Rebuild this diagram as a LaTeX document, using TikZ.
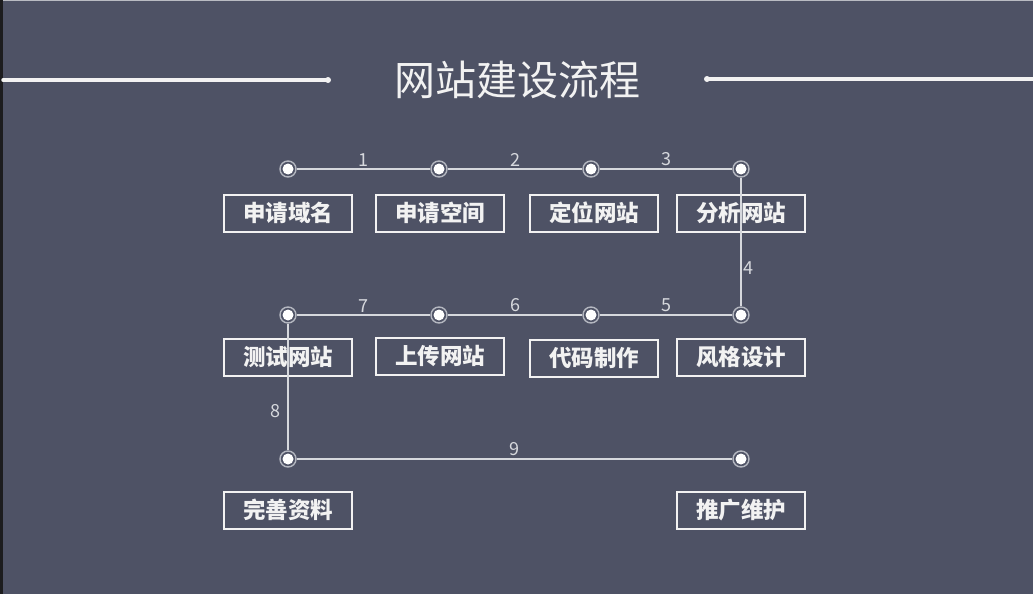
\documentclass[tikz,border=0pt]{standalone}
\usepackage{fontspec}
\usepackage{xcolor}
\usepackage{tikz}
\newfontfamily\cjk{Noto Sans CJK SC}
\definecolor{bg}{HTML}{4E5265}
\definecolor{fg}{HTML}{F2F2F2}
\definecolor{muted}{HTML}{D6D8DD}
\definecolor{ring}{HTML}{B4B7C0}
\definecolor{edge}{HTML}{1C1C1E}
\definecolor{topline}{HTML}{B9BBC2}
\tikzset{
  link/.style={draw=muted, line width=1.6pt},
  rule/.style={draw=fg, line width=3.5pt, line cap=round},
  stepbox/.style={draw=fg, line width=2pt, minimum width=128pt, minimum height=37pt, inner sep=0pt, text=fg, font=\cjk\bfseries\fontsize{22.5}{25}\selectfont},
  dot/.style={circle, draw=ring, line width=1.4pt, fill=bg, minimum size=16pt, inner sep=0pt,
    path picture={\fill[white] (path picture bounding box.center) circle (5.5pt);}},
  num/.style={text=muted, font=\cjk\fontsize{18}{20}\selectfont, inner sep=2pt},
  ttl/.style={text=fg, font=\cjk\fontsize{41}{45}\selectfont},
}

\begin{document}
\begin{tikzpicture}[x=1pt,y=-1pt]
  \fill[bg] (0,0) rectangle (1033,594);
  \useasboundingbox (0,0) rectangle (1033,594);
  \fill[edge] (0,0) rectangle (3,594);
  \fill[topline] (3,0) rectangle (1033,1.5);
  % title with side rules
  \node[ttl] (title) at (517,80) {网站建设流程};
  \coordinate (tl0) at (3,80);
  \coordinate (tl1) at (328,80);
  \coordinate (tr0) at (707,79);
  \coordinate (tr1) at (1033,79);
  \draw[rule] (tl0) -- (tl1);
  \draw[rule] (tr0) -- (tr1);
  \fill[fg] (tl1) circle (3pt);
  \fill[fg] (tr0) circle (3pt);
  % steps
  \node[stepbox] (b1) at (288,213) {申请域名};
  \node[stepbox] (b2) at (440,213) {申请空间};
  \node[stepbox] (b3) at (594,213) {定位网站};
  \node[stepbox] (b4) at (741,213) {分析网站};
  \node[stepbox] (b5) at (741,357) {风格设计};
  \node[stepbox] (b6) at (594,358) {代码制作};
  \node[stepbox] (b7) at (440,356) {上传网站};
  \node[stepbox] (b8) at (288,357) {测试网站};
  \node[stepbox] (b9) at (288,510) {完善资料};
  \node[stepbox] (b10) at (741,510) {推广维护};
  % route dots
  \foreach \n/\x/\y in {d1/288/169, d2/439/169, d3/591/169, d4/741/169,
                        d5/741/315, d6/591/315, d7/439/315, d8/288/315,
                        d9/288/459, d10/741/459}
    \node[dot] (\n) at (\x,\y) {};
  \draw[link] (d1) -- node[num, above] {1} (d2);
  \draw[link] (d2) -- node[num, above] {2} (d3);
  \draw[link] (d3) -- node[num, above] {3} (d4);
  \draw[link] (d4) -- node[num, right, pos=0.7] {4} (d5);
  \draw[link] (d5) -- node[num, above] {5} (d6);
  \draw[link] (d6) -- node[num, above] {6} (d7);
  \draw[link] (d7) -- node[num, above] {7} (d8);
  \draw[link] (d8) -- node[num, left=5pt, pos=0.69] {8} (d9);
  \draw[link] (d9) -- node[num, above] {9} (d10);
\end{tikzpicture}
\end{document}
